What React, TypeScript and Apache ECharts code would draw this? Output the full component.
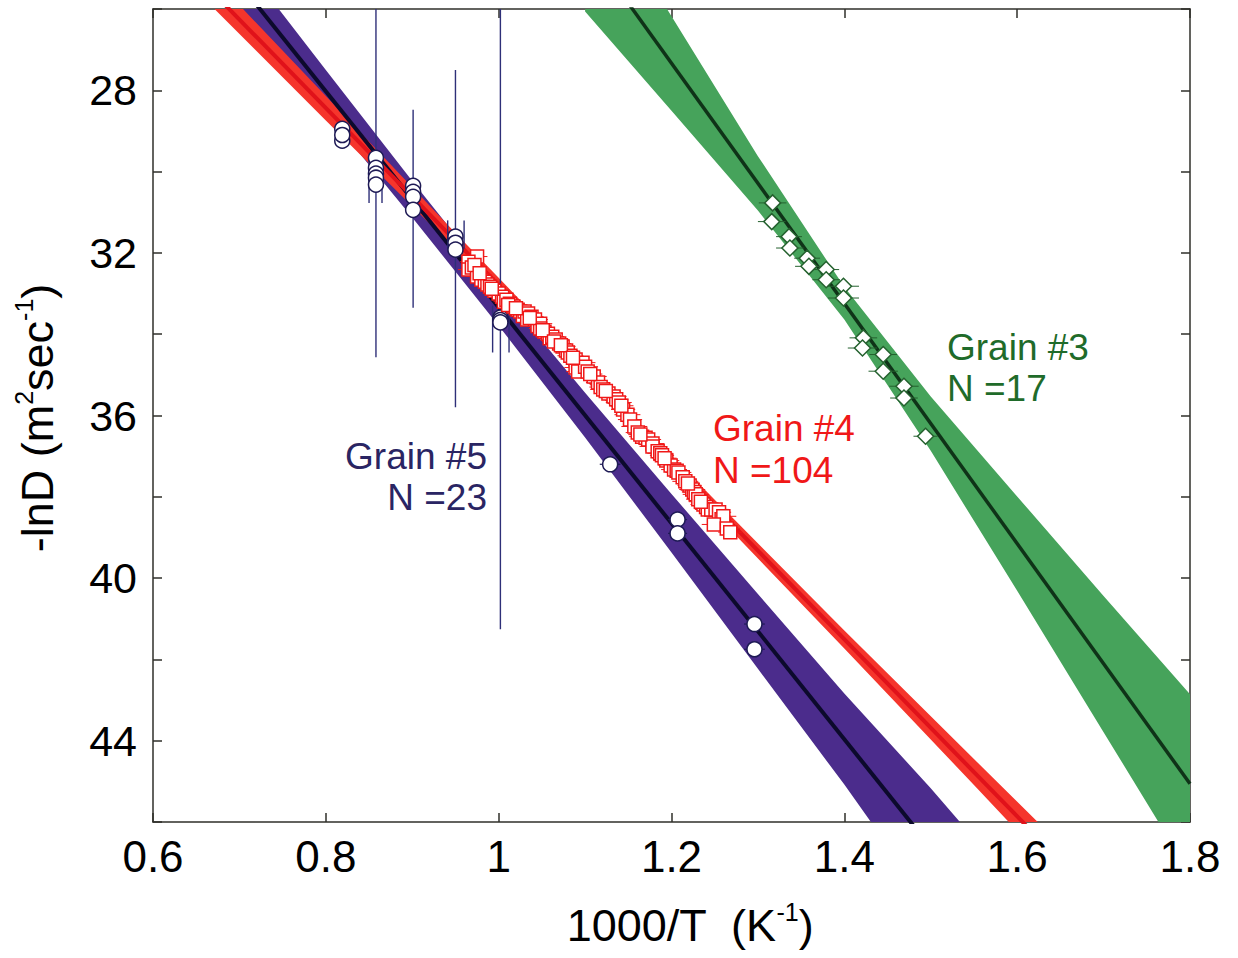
import React, { useEffect, useRef } from "react";
import * as echarts from "echarts";

const FONT = '"Liberation Sans", Arial, Helvetica, sans-serif';

// Axis ranges
const X_MIN = 0.6;
const X_MAX = 1.8;
const X_STEP = 0.2;
const Y_MIN = 26;
const Y_MAX = 46;
const Y_STEP = 2;
const Y_LABELS = [28, 32, 36, 40, 44];

// Grain #5: measured points [1000/T, -lnD]
const grain5Points = [
  [0.819, 28.95], [0.819, 29.24], [0.819, 29.1],
  [0.858, 29.66], [0.858, 29.91], [0.858, 30.05], [0.858, 30.15], [0.858, 30.32],
  [0.901, 30.35], [0.901, 30.5], [0.901, 30.62], [0.901, 30.94],
  [0.95, 31.6], [0.95, 31.75], [0.95, 31.92],
  [1.002, 33.59], [1.002, 33.65], [1.002, 33.71],
  [1.129, 37.2],
  [1.207, 38.56], [1.207, 38.9],
  [1.296, 41.13], [1.296, 41.75],
];
// Grain #5 vertical error bars [x, low, high]
const grain5YErr = [
  [0.858, 25.2, 34.57],
  [0.901, 28.48, 33.35],
  [0.95, 27.5, 35.8],
  [1.002, 25.5, 41.26],
  [0.85, 29.7, 30.77],
  [0.865, 29.8, 30.77],
  [0.941, 31.2, 31.9],
  [0.96, 31.2, 31.9],
  [0.993, 33.3, 34.45],
  [1.012, 33.3, 34.45],
];
// Grain #5 horizontal error bars [x, y, half-width]
const grain5XErr = [
  [1.129, 37.2, 0.012],
  [1.207, 38.56, 0.011],
  [1.207, 38.9, 0.011],
  [1.296, 41.13, 0.012],
  [1.296, 41.75, 0.012],
];
// Grain #5 Arrhenius fit and its confidence band [x, low, high]
const grain5Fit = [[0.65, 24.04], [1.55, 47.95]];
const grain5Band = [
  [0.65, 23.36, 24.72],
  [0.7, 24.75, 25.99],
  [0.8, 27.5, 28.54],
  [0.9, 30.23, 31.13],
  [1.0, 32.89, 33.79],
  [1.1, 35.44, 36.54],
  [1.2, 37.93, 39.37],
  [1.3, 40.39, 42.23],
  [1.4, 42.84, 45.08],
  [1.5, 45.17, 48.07],
  [1.55, 46.4, 49.5],
];

// Grain #4: measured points [x, y, x half-width]
const grain4Points = [
  [0.975, 32.09, 0.012], [0.965, 32.22, 0.01], [0.965, 32.41, 0.012], [0.969, 32.36, 0.011],
  [0.975, 32.58, 0.013], [0.98, 32.66, 0.012], [0.984, 32.71, 0.013], [0.987, 32.78, 0.012],
  [0.99, 32.83, 0.014], [0.995, 32.93, 0.013], [1.0, 33.0, 0.014], [1.004, 33.08, 0.013],
  [1.006, 33.2, 0.012], [1.009, 33.15, 0.014], [1.013, 33.25, 0.013], [1.017, 33.32, 0.014],
  [1.022, 33.4, 0.013], [1.025, 33.44, 0.015], [1.028, 33.55, 0.012], [1.03, 33.44, 0.014],
  [1.034, 33.49, 0.013], [1.038, 33.57, 0.014], [1.033, 33.64, 0.012], [1.042, 33.64, 0.015],
  [1.045, 33.8, 0.013], [1.048, 33.74, 0.014], [1.048, 33.86, 0.013], [1.053, 33.94, 0.014],
  [1.057, 33.99, 0.015], [1.059, 34.1, 0.013], [1.062, 34.06, 0.014], [1.066, 34.13, 0.015],
  [1.07, 34.23, 0.014], [1.074, 34.3, 0.015], [1.078, 34.4, 0.014], [1.08, 34.45, 0.013],
  [1.083, 34.53, 0.015], [1.089, 34.62, 0.014], [1.097, 34.7, 0.015], [1.089, 34.82, 0.013],
  [1.092, 34.92, 0.014], [1.1, 34.8, 0.015], [1.103, 34.92, 0.014], [1.11, 35.04, 0.015],
  [1.115, 35.19, 0.014], [1.118, 35.3, 0.013], [1.121, 35.36, 0.015], [1.127, 35.46, 0.014],
  [1.133, 35.53, 0.015], [1.136, 35.6, 0.014], [1.139, 35.68, 0.015], [1.144, 35.85, 0.014],
  [1.149, 35.98, 0.015], [1.152, 36.1, 0.014], [1.157, 36.27, 0.015], [1.161, 36.42, 0.014],
  [1.166, 36.52, 0.015], [1.17, 36.55, 0.014], [1.173, 36.59, 0.015], [1.178, 36.69, 0.014],
  [1.178, 36.76, 0.015], [1.184, 36.88, 0.014], [1.187, 36.93, 0.015], [1.189, 36.98, 0.014],
  [1.194, 37.11, 0.015], [1.199, 37.23, 0.014], [1.203, 37.33, 0.015], [1.206, 37.36, 0.014],
  [1.208, 37.4, 0.015], [1.213, 37.52, 0.014], [1.216, 37.62, 0.015], [1.221, 37.72, 0.014],
  [1.224, 37.82, 0.015], [1.226, 37.88, 0.014], [1.228, 37.94, 0.015], [1.231, 38.06, 0.014],
  [1.237, 38.19, 0.015], [1.24, 38.25, 0.014], [1.242, 38.31, 0.015], [1.246, 38.31, 0.014],
  [1.251, 38.31, 0.015], [1.255, 38.38, 0.014], [1.258, 38.55, 0.013], [1.26, 38.48, 0.015],
  [1.249, 38.68, 0.014], [1.264, 38.78, 0.015], [1.268, 38.87, 0.014],
  [0.972, 32.3, 0.012], [0.978, 32.5, 0.012], [0.992, 32.88, 0.013], [1.011, 33.28, 0.013],
  [1.02, 33.36, 0.014], [1.036, 33.6, 0.013], [1.051, 33.9, 0.014], [1.064, 34.18, 0.014],
  [1.072, 34.27, 0.014], [1.086, 34.58, 0.014], [1.106, 34.98, 0.014], [1.124, 35.4, 0.014],
  [1.142, 35.76, 0.014], [1.164, 36.47, 0.014], [1.192, 37.05, 0.014], [1.219, 37.67, 0.014],
  [1.234, 38.12, 0.014],
];
const grain4Fit = [[0.65, 25.17], [1.65, 46.95]];
const grain4Band = [
  [0.65, 24.79, 25.55],
  [0.8, 28.14, 28.74],
  [0.95, 31.51, 31.91],
  [1.1, 34.82, 35.12],
  [1.25, 38.07, 38.41],
  [1.4, 41.29, 41.73],
  [1.55, 44.45, 45.09],
  [1.65, 46.55, 47.35],
];

// Grain #3: measured points [x, y, x half-width]
const grain3Points = [
  [1.317, 30.77, 0.016], [1.316, 31.23, 0.016], [1.336, 31.6, 0.015], [1.337, 31.88, 0.016],
  [1.357, 32.13, 0.015], [1.359, 32.33, 0.016], [1.379, 32.41, 0.015], [1.379, 32.66, 0.016],
  [1.399, 32.82, 0.018], [1.399, 33.11, 0.018], [1.422, 34.09, 0.016], [1.421, 34.34, 0.017],
  [1.445, 34.5, 0.016], [1.445, 34.91, 0.017], [1.469, 35.28, 0.017], [1.469, 35.57, 0.016],
  [1.494, 36.51, 0.014],
];
const grain3Fit = [[1.1, 24.38], [1.8, 45.06]];
const grain3Band = [
  [1.1, 22.71, 26.06],
  [1.2, 26.18, 28.5],
  [1.3, 29.62, 30.96],
  [1.4, 32.84, 33.64],
  [1.5, 35.53, 36.87],
  [1.6, 37.99, 40.31],
  [1.7, 40.44, 43.79],
  [1.8, 42.86, 47.27],
];

const COLORS = {
  g5Band: "#4b2c8c",
  g5Line: "#0c0a2c",
  g5Mark: "#1e1a55",
  g5Text: "#2a2563",
  g4Band: "#f5352c",
  g4Line: "#e0121a",
  g4Mark: "#f01818",
  g3Band: "#46a35b",
  g3Line: "#0f3318",
  g3Mark: "#24612e",
  g3Text: "#1f6b2a",
  axis: "#2f2f2a",
};

function bandSeries(band: number[][], color: string, z: number) {
  return {
    type: "custom",
    clip: true,
    silent: true,
    z,
    data: band,
    encode: { x: 0, y: [1, 2] },
    renderItem: (params: any, api: any) => {
      if (params.dataIndex !== 0) return null;
      const upper = band.map((d) => api.coord([d[0], d[1]]));
      const lower = band
        .slice()
        .reverse()
        .map((d) => api.coord([d[0], d[2]]));
      return {
        type: "polygon",
        shape: { points: upper.concat(lower) },
        style: { fill: color },
      };
    },
  };
}

function fitSeries(fit: number[][], color: string, width: number, z: number) {
  return {
    type: "line",
    data: fit,
    symbol: "none",
    silent: true,
    clip: true,
    z,
    lineStyle: { color, width },
  };
}

function yErrSeries(bars: number[][], color: string, width: number, z: number) {
  return {
    type: "custom",
    clip: true,
    silent: true,
    z,
    data: bars,
    encode: { x: 0, y: [1, 2] },
    renderItem: (params: any, api: any) => {
      const a = api.coord([api.value(0), api.value(1)]);
      const b = api.coord([api.value(0), api.value(2)]);
      return {
        type: "line",
        shape: { x1: a[0], y1: a[1], x2: b[0], y2: b[1] },
        style: { stroke: color, lineWidth: width },
      };
    },
  };
}

function xErrSeries(bars: number[][], color: string, width: number, z: number) {
  return {
    type: "custom",
    clip: true,
    silent: true,
    z,
    data: bars,
    encode: { x: 0, y: 1 },
    renderItem: (params: any, api: any) => {
      const x = api.value(0);
      const y = api.value(1);
      const e = api.value(2);
      const a = api.coord([x - e, y]);
      const b = api.coord([x + e, y]);
      return {
        type: "line",
        shape: { x1: a[0], y1: a[1], x2: b[0], y2: b[1] },
        style: { stroke: color, lineWidth: width },
      };
    },
  };
}

function scatterSeries(
  points: number[][],
  symbol: string,
  size: number,
  border: string,
  z: number
) {
  return {
    type: "scatter",
    data: points.map((p) => [p[0], p[1]]),
    symbol,
    symbolSize: size,
    silent: true,
    z,
    itemStyle: { color: "#ffffff", borderColor: border, borderWidth: 1.5, opacity: 1 },
  };
}

const axisLineStyle = { color: COLORS.axis, width: 1.5 };

function xAxisDef(position: "top" | "bottom", labels: boolean) {
  return {
    type: "value",
    position,
    min: X_MIN,
    max: X_MAX,
    interval: X_STEP,
    axisLine: { show: true, onZero: false, lineStyle: axisLineStyle },
    axisTick: { show: true, inside: true, length: 9, lineStyle: axisLineStyle },
    axisLabel: {
      show: labels,
      color: "#000",
      fontSize: 44,
      fontFamily: FONT,
      margin: 12,
      showMinLabel: true,
      showMaxLabel: true,
    },
    splitLine: { show: false },
  };
}

function yAxisDef(position: "left" | "right", labels: boolean) {
  return {
    type: "value",
    position,
    inverse: true,
    min: Y_MIN,
    max: Y_MAX,
    interval: Y_STEP,
    axisLine: { show: true, onZero: false, lineStyle: axisLineStyle },
    axisTick: { show: true, inside: true, length: 9, lineStyle: axisLineStyle },
    axisLabel: {
      show: labels,
      color: "#000",
      fontSize: 43,
      fontFamily: FONT,
      margin: 16,
      formatter: (v: number) => (Y_LABELS.indexOf(v) >= 0 ? String(v) : ""),
    },
    splitLine: { show: false },
  };
}

function label(x: number, y: number, text: string, color: string, align: string) {
  return {
    type: "text",
    x,
    y,
    silent: true,
    style: {
      text,
      fill: color,
      fontSize: 37,
      fontFamily: FONT,
      align,
      textAlign: align,
      verticalAlign: "middle",
      textVerticalAlign: "middle",
    },
  };
}

const supRich = {
  s: {
    fontSize: 25,
    fontFamily: FONT,
    fill: "#000",
    color: "#000",
    lineHeight: 26,
    verticalAlign: "top",
  },
};

export default function App() {
  const ref = useRef<HTMLDivElement>(null);

  useEffect(() => {
    document.body.style.margin = "0";
    const chart = echarts.init(ref.current as HTMLDivElement, null, { renderer: "svg" });
    const option: any = {
      animation: false,
      backgroundColor: "#ffffff",
      grid: { left: 153, right: 48, top: 9, bottom: 136, containLabel: false },
      xAxis: [xAxisDef("bottom", true), xAxisDef("top", false)],
      yAxis: [yAxisDef("left", true), yAxisDef("right", false)],
      series: [
        bandSeries(grain5Band, COLORS.g5Band, 1),
        bandSeries(grain4Band, COLORS.g4Band, 1),
        bandSeries(grain3Band, COLORS.g3Band, 1),
        fitSeries(grain5Fit, COLORS.g5Line, 4, 2),
        fitSeries(grain4Fit, COLORS.g4Line, 4, 2),
        fitSeries(grain3Fit, COLORS.g3Line, 3.5, 2),
        yErrSeries(grain5YErr, "#2e2f78", 1.4, 3),
        xErrSeries(grain5XErr, COLORS.g5Mark, 1.2, 3),
        xErrSeries(grain4Points, COLORS.g4Mark, 1, 3),
        xErrSeries(grain3Points, COLORS.g3Mark, 1, 3),
        scatterSeries(grain5Points, "circle", 15, COLORS.g5Mark, 4),
        scatterSeries(grain4Points, "rect", 13, COLORS.g4Mark, 4),
        scatterSeries(grain3Points, "diamond", 16, COLORS.g3Mark, 4),
      ],
      graphic: [
        label(487, 456, "Grain #5", COLORS.g5Text, "right"),
        label(487, 497, "N =23", COLORS.g5Text, "right"),
        label(713, 428, "Grain #4", COLORS.g4Mark, "left"),
        label(713, 470, "N =104", COLORS.g4Mark, "left"),
        label(947, 347, "Grain #3", COLORS.g3Text, "left"),
        label(947, 388, "N =17", COLORS.g3Text, "left"),
        {
          type: "text",
          x: 690,
          y: 925,
          silent: true,
          style: {
            text: "1000/T  (K{s|-1})",
            fill: "#000",
            fontSize: 45,
            fontFamily: FONT,
            lineHeight: 52,
            align: "center",
            textAlign: "center",
            verticalAlign: "middle",
            textVerticalAlign: "middle",
            rich: supRich,
          },
        },
        {
          type: "text",
          x: 37,
          y: 418,
          rotation: Math.PI / 2,
          silent: true,
          style: {
            text: "-lnD (m{s|2}sec{s|-1})",
            fill: "#000",
            fontSize: 45,
            fontFamily: FONT,
            lineHeight: 52,
            align: "center",
            textAlign: "center",
            verticalAlign: "middle",
            textVerticalAlign: "middle",
            rich: supRich,
          },
        },
      ],
    };
    chart.setOption(option);
    return () => chart.dispose();
  }, []);

  return <div ref={ref} style={{ width: 1238, height: 958 }} />;
}
